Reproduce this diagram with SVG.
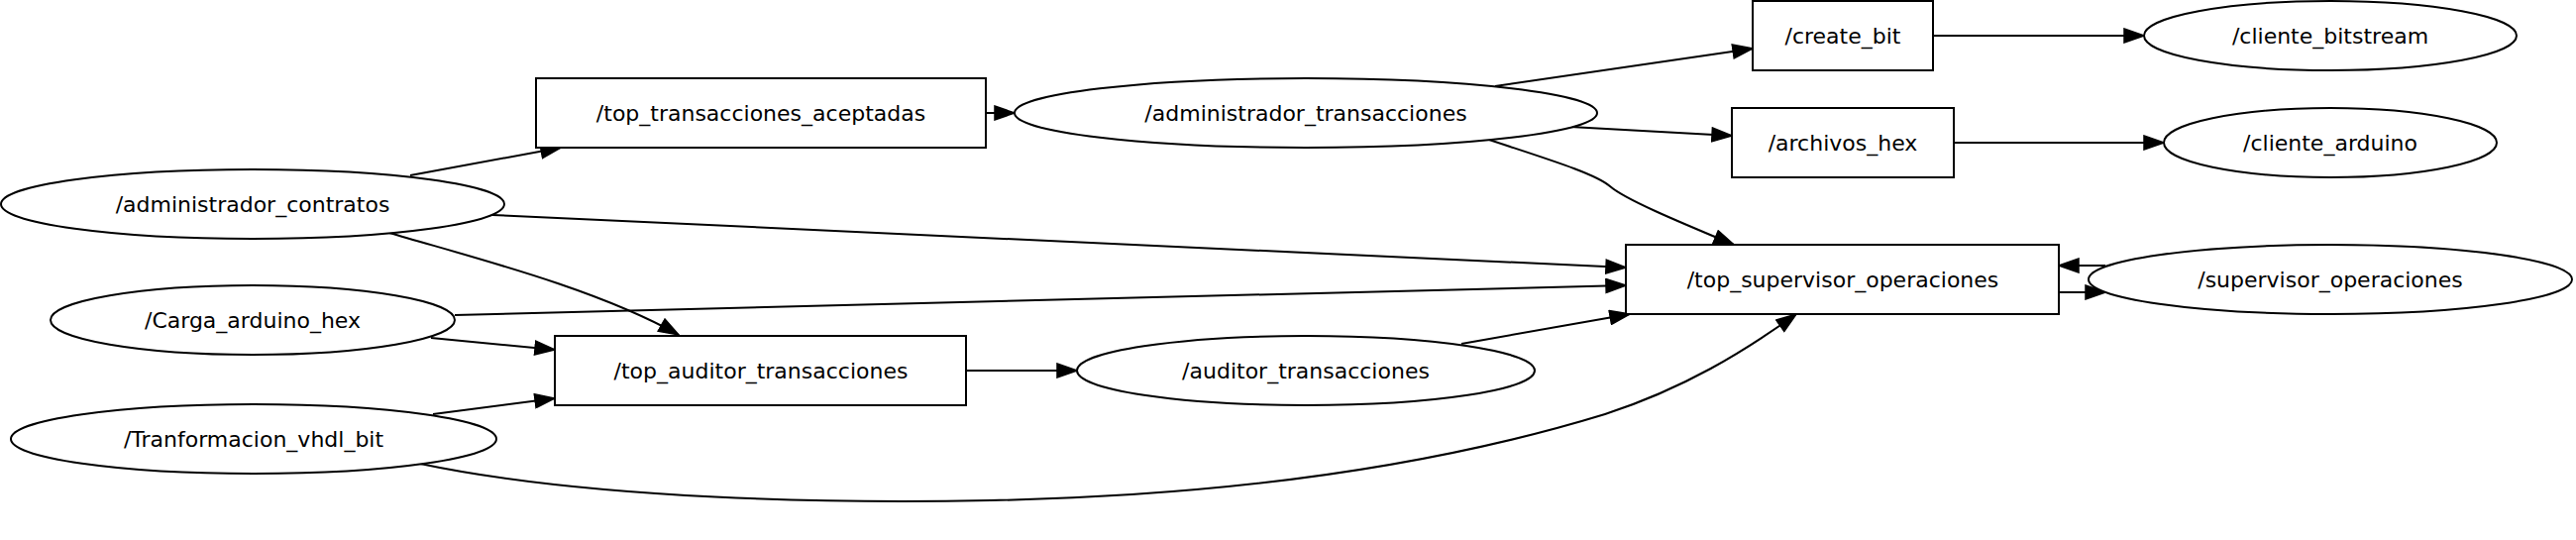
<svg xmlns="http://www.w3.org/2000/svg" width="2600" height="545" viewBox="0 0 2600 545">
<style>
.n{fill:#fff;stroke:#000;stroke-width:2}
.t{font-family:"DejaVu Sans","Liberation Sans",sans-serif;font-size:22px;text-anchor:middle;fill:#000}
.e{fill:none;stroke:#000;stroke-width:2;marker-end:url(#ah)}
</style>
<defs>
<marker id="ah" markerUnits="userSpaceOnUse" markerWidth="22" markerHeight="16" viewBox="0 0 22 16" refX="21" refY="8" orient="auto">
<path d="M1,1 L21,8 L1,15 z" fill="#000" stroke="#000" stroke-width="1.5"/>
</marker>
</defs>
<rect width="2600" height="545" fill="#fff"/>
<g id="edges">
<path class="e" d="M414,177 L566,149"/>
<path class="e" d="M497,217 L1641,270"/>
<path class="e" d="M393,235 C470,258 600,290 685,338"/>
<path class="e" d="M459,318 L1641,288"/>
<path class="e" d="M435,341 L560,353"/>
<path class="e" d="M437,418 L560,402"/>
<path class="e" d="M424,468 C600,505 850,508 1000,505 C1250,500 1450,470 1620,418 C1700,392 1760,355 1813,317"/>
<path class="e" d="M995,114 L1024,114"/>
<path class="e" d="M1509,87 L1769,49"/>
<path class="e" d="M1585,128 L1748,137"/>
<path class="e" d="M1503,141 C1560,160 1610,175 1625,188 C1640,201 1690,222 1750,247"/>
<path class="e" d="M975,374 L1087,374"/>
<path class="e" d="M1475,347 L1645,317"/>
<path class="e" d="M1951,36 L2164,36"/>
<path class="e" d="M1972,144 L2184,144"/>
<path class="e" d="M2125,268 L2078,268"/>
<path class="e" d="M2078,295 L2125,295"/>
</g>
<g id="top_transacciones_aceptadas"><rect class="n" x="541" y="79" width="454" height="70"/><text class="t" x="768" y="122">/top_transacciones_aceptadas</text></g>
<g id="administrador_transacciones"><ellipse class="n" cx="1318" cy="114" rx="294" ry="35"/><text class="t" x="1318" y="122">/administrador_transacciones</text></g>
<g id="create_bit"><rect class="n" x="1769" y="1" width="182" height="70"/><text class="t" x="1860" y="44">/create_bit</text></g>
<g id="cliente_bitstream"><ellipse class="n" cx="2352" cy="36" rx="188" ry="35"/><text class="t" x="2352" y="44">/cliente_bitstream</text></g>
<g id="archivos_hex"><rect class="n" x="1748" y="109" width="224" height="70"/><text class="t" x="1860" y="152">/archivos_hex</text></g>
<g id="cliente_arduino"><ellipse class="n" cx="2352" cy="144" rx="168" ry="35"/><text class="t" x="2352" y="152">/cliente_arduino</text></g>
<g id="administrador_contratos"><ellipse class="n" cx="255" cy="206" rx="254" ry="35"/><text class="t" x="255" y="214">/administrador_contratos</text></g>
<g id="top_supervisor_operaciones"><rect class="n" x="1641" y="247" width="437" height="70"/><text class="t" x="1860" y="290">/top_supervisor_operaciones</text></g>
<g id="supervisor_operaciones"><ellipse class="n" cx="2352" cy="282" rx="244" ry="35"/><text class="t" x="2352" y="290">/supervisor_operaciones</text></g>
<g id="Carga_arduino_hex"><ellipse class="n" cx="255" cy="323" rx="204" ry="35"/><text class="t" x="255" y="331">/Carga_arduino_hex</text></g>
<g id="top_auditor_transacciones"><rect class="n" x="560" y="339" width="415" height="70"/><text class="t" x="768" y="382">/top_auditor_transacciones</text></g>
<g id="auditor_transacciones"><ellipse class="n" cx="1318" cy="374" rx="231" ry="35"/><text class="t" x="1318" y="382">/auditor_transacciones</text></g>
<g id="Tranformacion_vhdl_bit"><ellipse class="n" cx="256" cy="443" rx="245" ry="35"/><text class="t" x="256" y="451">/Tranformacion_vhdl_bit</text></g>
</svg>
